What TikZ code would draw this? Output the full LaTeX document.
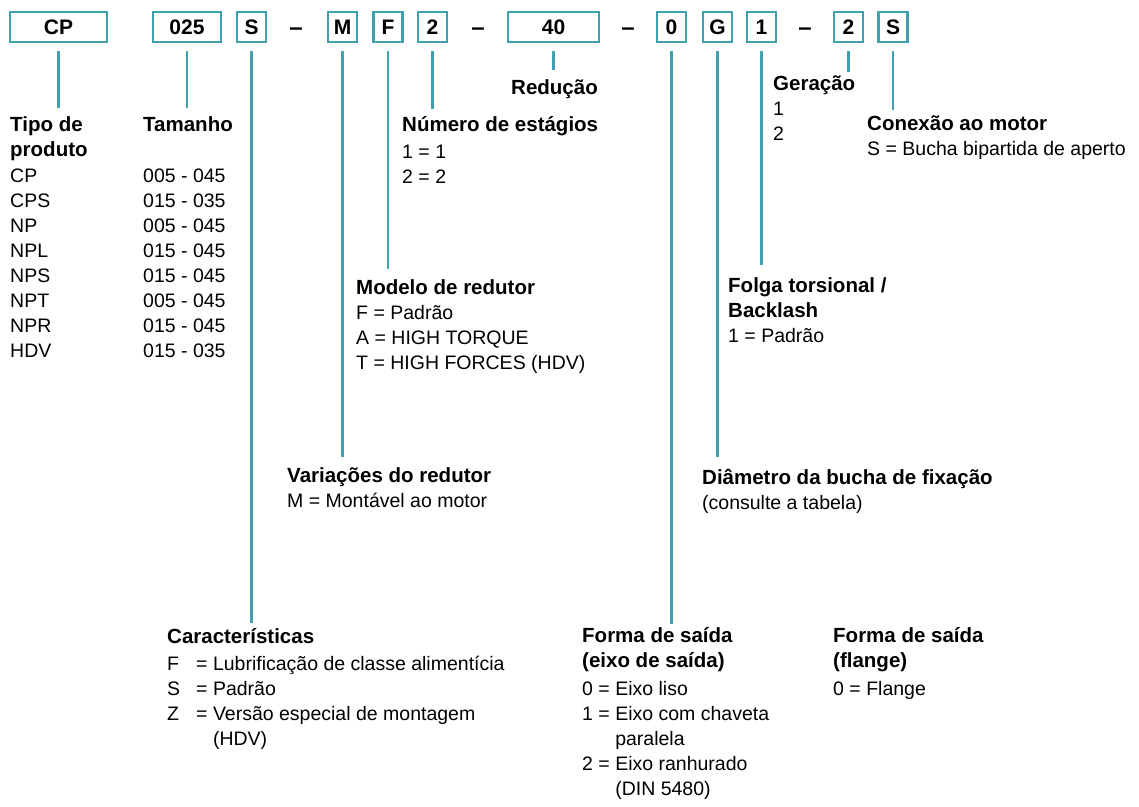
\documentclass[tikz,border=0pt]{standalone}
\usepackage{fontspec}
\setmainfont{Liberation Sans}
\usetikzlibrary{positioning}

\definecolor{codeteal}{RGB}{64,162,176}
\newcommand\txtfont{\fontsize{19.5}{25}\selectfont}
\newcommand\hd[1]{{\fontsize{20.5}{25}\selectfont\bfseries #1}}
\newcommand\keyeq[1]{\makebox[29pt][l]{#1}= }

\begin{document}
\begin{tikzpicture}[x=1pt,y=-1pt,
     codebox/.style={draw=codeteal, line width=2.2pt, font=\fontsize{21}{25}\selectfont\bfseries,
                     minimum height=30pt, minimum width=29pt, inner sep=0pt},
     sepdash/.style={inner sep=0pt, yshift=-5pt, font=\fontsize{24}{25}\selectfont\bfseries},
     legend/.style={anchor=north west, yshift=17.5pt, align=left, inner sep=0pt, font=\txtfont,
                    execute at begin node=\strut},
     lead/.style={draw=codeteal, line width=2.2pt}]
     \useasboundingbox (0,0) rectangle (1139,806);

     % order code
     \node[codebox, minimum width=97pt] (cp) at (58.5,27) {CP};
     \node[codebox, minimum width=68pt] (size) at (187,27) {025};
     \node[codebox] (feat) at (251.5,27) {S};
     \node[sepdash] (d1) at (296,27) {--};
     \node[codebox] (var) at (342.5,27) {M};
     \node[codebox] (model) at (388,27) {F};
     \node[codebox] (stage) at (432.5,27) {2};
     \node[sepdash] (d2) at (478,27) {--};
     \node[codebox, minimum width=91pt] (ratio) at (553.5,27) {40};
     \node[sepdash] (d3) at (628,27) {--};
     \node[codebox] (shaft) at (671.5,27) {0};
     \node[codebox] (bush) at (717.5,27) {G};
     \node[codebox] (play) at (761.5,27) {1};
     \node[sepdash] (d4) at (805,27) {--};
     \node[codebox] (gen) at (848.5,27) {2};
     \node[codebox] (conn) at (893,27) {S};

     % legends (positions = baseline of first line)
     \node[legend] (typelbl) at (10,134) {\hd{Tipo de}\\\hd{produto}\\[1pt]CP\\CPS\\NP\\NPL\\NPS\\NPT\\NPR\\HDV};
     \node[legend] (sizelbl) at (143,134) {\hd{Tamanho}\\[26pt]005 - 045\\015 - 035\\005 - 045\\015 - 045\\015 - 045\\005 - 045\\015 - 045\\015 - 035};
     \node[legend] (stagelbl) at (402,134) {\hd{Número de estágios}\\[2pt]1 = 1\\2 = 2};
     \node[legend, anchor=north] (ratiolbl) at (554.5,94) {\hd{Redução}};
     \node[legend] (genlbl) at (773,93) {\hd{Geração}\\1\\2};
     \node[legend] (connlbl) at (867,133) {\hd{Conexão ao motor}\\S = Bucha bipartida de aperto};
     \node[legend] (modellbl) at (356,297) {\hd{Modelo de redutor}\\F = Padrão\\A = HIGH TORQUE\\T = HIGH FORCES (HDV)};
     \node[legend] (playlbl) at (728,295) {\hd{Folga torsional /}\\\hd{Backlash}\\1 = Padrão};
     \node[legend] (varlbl) at (287,485) {\hd{Variações do redutor}\\M = Montável ao motor};
     \node[legend] (bushlbl) at (702,486) {\hd{Diâmetro da bucha de fixação}\\(consulte a tabela)};
     \node[legend] (featlbl) at (167,646) {\hd{Características}\\[2pt]\keyeq{F}Lubrificação de classe alimentícia\\\keyeq{S}Padrão\\\keyeq{Z}Versão especial de montagem\\\phantom{\keyeq{Z}}(HDV)};
     \node[legend] (shaftlbl) at (582,645) {\hd{Forma de saída}\\\hd{(eixo de saída)}\\[3pt]0 = Eixo liso\\1 = Eixo com chaveta\\\phantom{1 = }paralela\\2 = Eixo ranhurado\\\phantom{2 = }(DIN 5480)};
     \node[legend] (flangelbl) at (833,645) {\hd{Forma de saída}\\\hd{(flange)}\\[3pt]0 = Flange};

     % leader lines, \gap = space above the first baseline
     \foreach \code/\lbl/\gap in {cp/typelbl/26, size/sizelbl/26, feat/featlbl/23, var/varlbl/28,
          model/modellbl/28, stage/stagelbl/25, ratio/ratiolbl/24, shaft/shaftlbl/21,
          bush/bushlbl/29, play/playlbl/30, gen/genlbl/21, conn/connlbl/23}
       \draw[lead] ([yshift=-8pt]\code.south) -- ([yshift=\gap pt-17.5pt]\code.south |- \lbl.north);
\end{tikzpicture}
\end{document}
